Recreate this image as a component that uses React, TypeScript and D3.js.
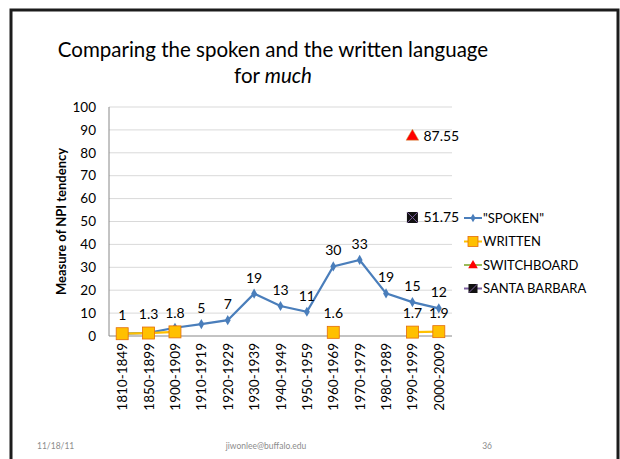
import React, { useEffect, useRef } from "react";
import * as d3 from "d3";

const categories = [
    "1810-1849", "1850-1899", "1900-1909", "1910-1919", "1920-1929", "1930-1939", "1940-1949",
    "1950-1959", "1960-1969", "1970-1979", "1980-1989", "1990-1999", "2000-2009",
];
const spoken = [1, 1.4, 3.6, 5.2, 6.9, 18.5, 13.1, 10.6, 30.4, 33.2, 18.6, 14.8, 12.1];
const spokenLabels = ["", "", "", "5", "7", "19", "13", "11", "30", "33", "19", "15", "12"];
const written: (number | null)[] = [1, 1.3, 1.8, null, null, null, null, null, 1.6, null, null, 1.7, 1.9];
const switchboard: (number | null)[] = [null, null, null, null, null, null, null, null, null, null, null, 87.55, null];
const santaBarbara: (number | null)[] = [null, null, null, null, null, null, null, null, null, null, null, 51.75, null];
const yTicks = [0, 10, 20, 30, 40, 50, 60, 70, 80, 90, 100];
const legendItems = ['"SPOKEN"', "WRITTEN", "SWITCHBOARD", "SANTA BARBARA"];

const FONT = "Lato, 'Open Sans', sans-serif";

export default function App() {
    const ref = useRef<SVGSVGElement | null>(null);

    useEffect(() => {
        const width = 620, height = 459;
        const svg = d3.select(ref.current);
        svg.selectAll("*").remove();
        svg.attr("width", width).attr("height", height);

        svg.append("rect").attr("width", width).attr("height", height).attr("fill", "#fff");
        // slide frame
        svg.append("rect")
            .attr("x", 11).attr("y", 10).attr("width", 607).attr("height", 470)
            .attr("fill", "none").attr("stroke", "#1c1c1c").attr("stroke-width", 3);

        // title
        const title = svg.append("text").attr("text-anchor", "middle").attr("font-family", FONT)
            .attr("font-size", 20.5).attr("fill", "#000");
        title.append("tspan").attr("x", 273).attr("y", 57).text("Comparing the spoken and the written language");
        const t2 = title.append("tspan").attr("x", 273).attr("y", 83);
        t2.append("tspan").text("for ");
        t2.append("tspan").attr("font-style", "italic").text("much");

        const x = d3.scalePoint<string>().domain(categories).range([109, 452]).padding(0.5);
        const y = d3.scaleLinear().domain([0, 100]).range([336, 107]);

        // gridlines
        svg.append("g").selectAll("line").data(yTicks.filter((d) => d > 0)).join("line")
            .attr("x1", 109).attr("x2", 452)
            .attr("y1", (d) => y(d)).attr("y2", (d) => y(d))
            .attr("stroke", "#d9d9d9").attr("stroke-width", 1);

        // axes
        svg.append("line").attr("x1", 109).attr("x2", 109).attr("y1", y(100)).attr("y2", y(0))
            .attr("stroke", "#888").attr("stroke-width", 1);
        svg.append("line").attr("x1", 109).attr("x2", 452).attr("y1", y(0)).attr("y2", y(0))
            .attr("stroke", "#888").attr("stroke-width", 1);

        svg.append("g").selectAll("text").data(yTicks).join("text")
            .attr("x", 96).attr("y", (d) => y(d)).attr("dy", "0.35em")
            .attr("text-anchor", "end").attr("font-family", FONT).attr("font-size", 13.5)
            .attr("fill", "#000").text((d) => d);

        svg.append("text")
            .attr("transform", `translate(66, ${(y(0) + y(100)) / 2}) rotate(-90)`)
            .attr("text-anchor", "middle").attr("font-family", FONT).attr("font-size", 13)
            .attr("font-weight", "bold").text("Measure of NPI tendency");

        svg.append("g").selectAll("text").data(categories).join("text")
            .attr("transform", (d) => `translate(${x(d)! + 5}, 343) rotate(-90)`)
            .attr("text-anchor", "end").attr("font-family", FONT).attr("font-size", 13.5)
            .text((d) => d);

        // spoken series
        const spokenLine = d3.line<number>().x((_, i) => x(categories[i])!).y((d) => y(d));
        svg.append("path").datum(spoken).attr("d", spokenLine)
            .attr("fill", "none").attr("stroke", "#4a7ebb").attr("stroke-width", 2.25);
        svg.append("g").selectAll("path").data(spoken).join("path")
            .attr("d", d3.symbol(d3.symbolDiamond, 30)())
            .attr("transform", (d, i) => `translate(${x(categories[i])}, ${y(d)})`)
            .attr("fill", "#4a7ebb");
        svg.append("g").selectAll("text").data(spoken).join("text")
            .attr("x", (_, i) => x(categories[i])!).attr("y", (d) => y(d) - 11)
            .attr("text-anchor", "middle").attr("font-family", FONT).attr("font-size", 14)
            .text((_, i) => spokenLabels[i]);

        // written series
        const writtenLine = d3.line<number | null>().defined((d) => d !== null)
            .x((_, i) => x(categories[i])!).y((d) => y(d as number));
        svg.append("path").datum(written).attr("d", writtenLine)
            .attr("fill", "none").attr("stroke", "#ffc000").attr("stroke-width", 2.25);
        const wPts = written.map((v, i) => ({ v, c: categories[i] })).filter((d) => d.v !== null);
        svg.append("g").selectAll("rect").data(wPts).join("rect")
            .attr("x", (d) => x(d.c)! - 6).attr("y", (d) => y(d.v!) - 6)
            .attr("width", 12).attr("height", 12)
            .attr("fill", "#ffc000").attr("stroke", "#e46c0a").attr("stroke-width", 0.8);
        svg.append("g").selectAll("text").data(wPts).join("text")
            .attr("x", (d) => x(d.c)!).attr("y", (d) => y(d.v!) - 14)
            .attr("text-anchor", "middle").attr("font-family", FONT).attr("font-size", 14)
            .text((d) => d.v);

        // switchboard
        const sPts = switchboard.map((v, i) => ({ v, c: categories[i] })).filter((d) => d.v !== null);
        svg.append("g").selectAll("path").data(sPts).join("path")
            .attr("d", d3.symbol(d3.symbolTriangle, 70)())
            .attr("transform", (d) => `translate(${x(d.c)}, ${y(d.v!) + 1})`)
            .attr("fill", "#ff0000").attr("stroke", "#c9a040").attr("stroke-width", 0.5);
        svg.append("g").selectAll("text").data(sPts).join("text")
            .attr("x", (d) => x(d.c)! + 11).attr("y", (d) => y(d.v!) + 5)
            .attr("font-family", FONT).attr("font-size", 14).text((d) => d.v!.toFixed(2));

        // santa barbara
        const bPts = santaBarbara.map((v, i) => ({ v, c: categories[i] })).filter((d) => d.v !== null);
        const bg = svg.append("g").selectAll("g").data(bPts).join("g")
            .attr("transform", (d) => `translate(${x(d.c)}, ${y(d.v!)})`);
        bg.append("rect").attr("x", -5.5).attr("y", -5.5).attr("width", 11).attr("height", 11).attr("fill", "#111");
        bg.append("path").attr("d", "M-5.5,-5.5L5.5,5.5M5.5,-5.5L-5.5,5.5")
            .attr("stroke", "#7d60a0").attr("stroke-width", 1);
        svg.append("g").selectAll("text").data(bPts).join("text")
            .attr("x", (d) => x(d.c)! + 11).attr("y", (d) => y(d.v!) + 5)
            .attr("font-family", FONT).attr("font-size", 14).text((d) => d.v!.toFixed(2));

        // legend
        const legendColors = ["#4a7ebb", "#ffc000", "#9bbb59", "#7d60a0"];
        const lg = svg.append("g").selectAll("g").data(legendItems).join("g")
            .attr("transform", (_, i) => `translate(464, ${218 + i * 23.5})`);
        lg.append("line").attr("x1", 0).attr("x2", 18).attr("stroke", (_, i) => legendColors[i]).attr("stroke-width", 2);
        lg.each(function (_, i) {
            const g = d3.select(this);
            if (i === 0) g.append("path").attr("d", d3.symbol(d3.symbolDiamond, 22)()).attr("transform", "translate(9,0)").attr("fill", "#4a7ebb");
            if (i === 1) g.append("rect").attr("x", 4).attr("y", -5).attr("width", 10).attr("height", 10).attr("fill", "#ffc000").attr("stroke", "#e46c0a").attr("stroke-width", 0.8);
            if (i === 2) g.append("path").attr("d", d3.symbol(d3.symbolTriangle, 40)()).attr("transform", "translate(9,0.5)").attr("fill", "#ff0000");
            if (i === 3) {
                g.append("rect").attr("x", 4.5).attr("y", -4.5).attr("width", 9).attr("height", 9).attr("fill", "#111");
                g.append("path").attr("d", "M4.5,4.5L13.5,-4.5").attr("stroke", "#7d60a0").attr("stroke-width", 1);
            }
        });
        lg.append("text").attr("x", 19).attr("dy", "0.36em").attr("font-family", FONT)
            .attr("font-size", 13).text((d) => d);

        // footer
        const foot = svg.append("g").attr("font-family", FONT).attr("font-size", 8.5).attr("fill", "#8c8c8c");
        foot.append("text").attr("x", 37).attr("y", 449).text("11/18/11");
        foot.append("text").attr("x", 266).attr("y", 449).attr("text-anchor", "middle").text("jiwonlee@buffalo.edu");
        foot.append("text").attr("x", 492).attr("y", 449).attr("text-anchor", "end").text("36");
    }, []);

    return <svg ref={ref} style={{ position: "absolute", left: 0, top: 0 }}></svg>;
}
